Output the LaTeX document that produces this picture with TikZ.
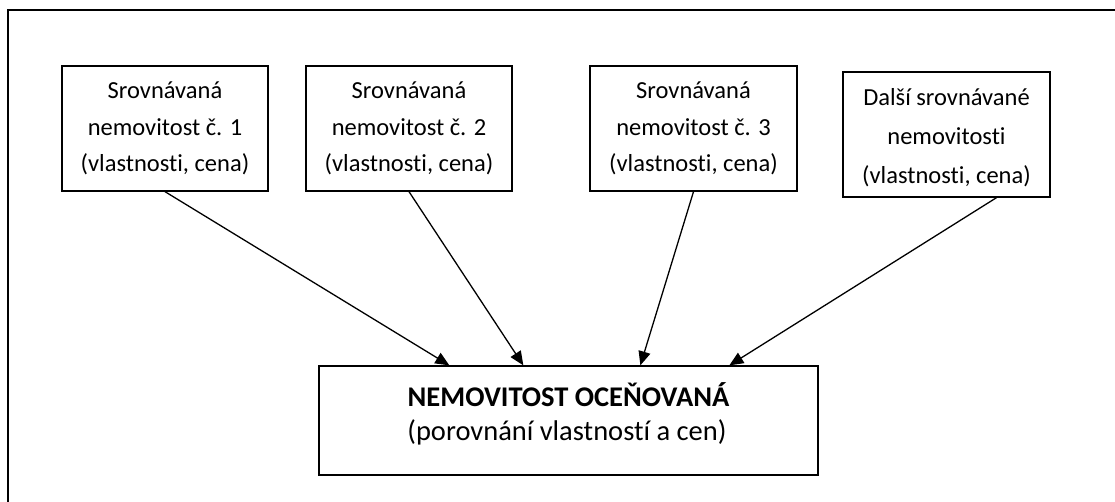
\documentclass[tikz,border=0pt]{standalone}
\usepackage{fontspec}
\setmainfont[Ligatures=CommonOff]{Carlito}
\usetikzlibrary{arrows.meta,calc}
\begin{document}
\begin{tikzpicture}[x=1pt,y=-1pt,
  box/.style={draw,line width=1.3pt,align=center,inner sep=0pt,
    font=\fontsize{24.5}{36.5}\selectfont},
  lbl/.style={inner sep=0pt,anchor=center},
  conn/.style={line width=1.3pt,-{Triangle[length=14pt,width=12pt]}}]
\useasboundingbox (0,0) rectangle (1115,502);
\fill[white] (0,0) rectangle (1115,502);
\draw[line width=2pt] (8,502) -- (8,10) -- (1115,10);
\node[box,minimum width=206pt,minimum height=125pt] (b1) at (165,128.5)
  {Srovnávaná\\nemovitost č. 1\\(vlastnosti, cena)};
\node[box,minimum width=206pt,minimum height=125pt] (b2) at (409,128.5)
  {Srovnávaná\\nemovitost č. 2\\(vlastnosti, cena)};
\node[box,minimum width=207pt,minimum height=125pt] (b3) at (693.5,128.5)
  {Srovnávaná\\nemovitost č. 3\\(vlastnosti, cena)};
\node[box,minimum width=207pt,minimum height=125pt] (b4) at (946.5,134.5) {};
\node[lbl,align=center,font=\fontsize{24.5}{39}\selectfont] (t4) at (946.5,137.5)
  {Další srovnávané\\nemovitosti\\(vlastnosti, cena)};
\node[box,minimum width=499pt,minimum height=109pt] (bot) at (568.5,420.5) {};
\node[lbl,font=\fontsize{28.5}{34}\selectfont\bfseries] (bt1) at (568.5,395)
  {NEMOVITOST OCEŇOVANÁ};
\node[lbl,font=\fontsize{28.5}{34}\selectfont] (bt2) at (567,432)
  {(porovnání vlastností a cen)};
\coordinate (s4) at ($(b4.south)+(50,0)$);
\coordinate (e1) at ($(bot.north west)+(131,0)$);
\coordinate (e2) at ($(bot.north west)+(205,0)$);
\coordinate (e3) at ($(bot.north west)+(322,0)$);
\coordinate (e4) at ($(bot.north west)+(411,0)$);
\draw[conn] (b1.south) -- (e1);
\draw[conn] (b2.south) -- (e2);
\draw[conn] (b3.south) -- (e3);
\draw[conn] (s4) -- (e4);
\end{tikzpicture}
\end{document}
